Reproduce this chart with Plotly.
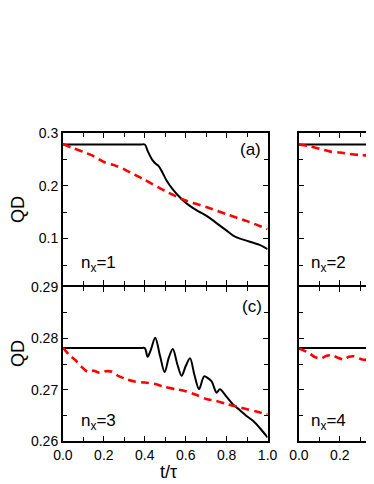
import plotly.graph_objects as go

# panel (a): n_x = 1
a_black_t = [0, 0.2, 0.38, 0.40, 0.415, 0.435, 0.455, 0.467, 0.485, 0.507, 0.535, 0.564, 0.59,
             0.62, 0.66, 0.70, 0.735, 0.767, 0.80, 0.832, 0.865, 0.897, 0.93, 0.961, 1.0]
a_black_qd = [0.278, 0.278, 0.278, 0.278, 0.265, 0.250, 0.241, 0.2377, 0.226, 0.2094, 0.194,
              0.181, 0.171, 0.162, 0.152, 0.1434, 0.134, 0.1245, 0.115, 0.1057, 0.100, 0.0962,
              0.092, 0.0881, 0.080]
a_red_t = [0, 0.05, 0.1, 0.15, 0.2, 0.25, 0.3, 0.35, 0.4, 0.5, 0.6, 0.7, 0.8, 0.9, 1.0]
a_red_qd = [0.279, 0.271, 0.264, 0.256, 0.245, 0.239, 0.231, 0.221, 0.211, 0.190, 0.172, 0.160,
            0.146, 0.133, 0.118]

# panel (b): n_x = 2 (only the left part is visible)
b_black_t = [0, 0.4]
b_black_qd = [0.278, 0.278]
b_red_t = [0, 0.05, 0.1, 0.15, 0.2, 0.25, 0.3, 0.35, 0.4]
b_red_qd = [0.278, 0.275, 0.270, 0.265, 0.263, 0.260, 0.258, 0.257, 0.256]

# panel (c): n_x = 3
c_black_t = [0, 0.2, 0.38, 0.40, 0.414, 0.43, 0.451, 0.475, 0.497, 0.517, 0.537, 0.56, 0.58,
             0.60, 0.621, 0.643, 0.665, 0.69, 0.71, 0.727, 0.751, 0.767, 0.80, 0.832, 0.865,
             0.897, 0.93, 0.965, 1.0]
c_black_qd = [0.2781, 0.2781, 0.2781, 0.2781, 0.2764, 0.2778, 0.2801, 0.2765, 0.2734, 0.2762,
              0.2779, 0.2748, 0.2727, 0.2746, 0.2761, 0.2728, 0.2701, 0.2726, 0.2722, 0.2716,
              0.2694, 0.2701, 0.2686, 0.2671, 0.2660, 0.2649, 0.2639, 0.2624, 0.2607]
c_red_t = [0, 0.03, 0.06, 0.09, 0.12, 0.15, 0.18, 0.21, 0.24, 0.27, 0.3, 0.35, 0.4, 0.45, 0.5,
           0.55, 0.6, 0.65, 0.7, 0.75, 0.8, 0.85, 0.9, 0.95, 1.0]
c_red_qd = [0.2782, 0.2768, 0.2758, 0.2745, 0.2735, 0.2737, 0.2733, 0.2736, 0.2735, 0.2727,
            0.2722, 0.2716, 0.2714, 0.2711, 0.2705, 0.2701, 0.2697, 0.2690, 0.2682, 0.2678,
            0.2672, 0.2667, 0.2662, 0.2657, 0.2652]

# panel (d): n_x = 4 (only the left part is visible)
d_black_t = [0, 0.4]
d_black_qd = [0.2781, 0.2781]
d_red_t = [0, 0.02, 0.05, 0.08, 0.11, 0.135, 0.165, 0.19, 0.22, 0.245, 0.27, 0.3, 0.325, 0.35,
           0.375, 0.4]
d_red_qd = [0.2780, 0.2777, 0.2771, 0.2763, 0.2761, 0.2766, 0.2767, 0.2762, 0.2759, 0.2764,
            0.2765, 0.2760, 0.2758, 0.2763, 0.2764, 0.2760]

x_ticks = [0.0, 0.2, 0.4, 0.6, 0.8, 1.0]
x_tick_text = ["0.0", "0.2", "0.4", "0.6", "0.8", "1.0"]
a_y_ticks = [0.1, 0.2, 0.3]
a_y_tick_text = ["0.1", "0.2", "0.3"]
c_y_ticks = [0.26, 0.27, 0.28, 0.29]
c_y_tick_text = ["0.26", "0.27", "0.28", "0.29"]
panel_tags = ["(a)", "(c)"]
nx_labels = ["n<sub>x</sub>=1", "n<sub>x</sub>=2", "n<sub>x</sub>=3", "n<sub>x</sub>=4"]

# the page body has an 8px margin, so the figure is drawn 8px in from the window corner
OFF = 8
W, H = 374 - OFF, 484 - OFF
FONT = "Liberation Sans, Arial, sans-serif"

def fx(x):
    return (x - OFF) / W

def fy(y):
    return 1 - (y - OFF) / H

fig = go.Figure()

panels = [
    (a_black_t, a_black_qd, a_red_t, a_red_qd, "x", "y"),
    (b_black_t, b_black_qd, b_red_t, b_red_qd, "x2", "y2"),
    (c_black_t, c_black_qd, c_red_t, c_red_qd, "x3", "y3"),
    (d_black_t, d_black_qd, d_red_t, d_red_qd, "x4", "y4"),
]
for bt, bq, rt, rq, xa, ya in panels:
    fig.add_trace(go.Scatter(x=bt, y=bq, mode="lines", xaxis=xa, yaxis=ya,
                             line=dict(color="black", width=2, shape="spline", smoothing=0.9)))
    fig.add_trace(go.Scatter(x=rt, y=rq, mode="lines", xaxis=xa, yaxis=ya,
                             line=dict(color="#ff0000", width=2.6, dash="8px,5px",
                                       shape="spline", smoothing=0.8)))

# axis lines are drawn outside the domain, so edges are nudged by half a line width
left_dom = [fx(62.9), fx(267.6)]
right_dom = [fx(298.9), 1.0]
top_dom = [fy(285.1), fy(132.9)]
bot_dom = [fy(441.1), fy(286.9)]

axis_common = dict(showline=True, linecolor="black", linewidth=1.8, ticks="inside",
                   ticklen=5, tickwidth=1.3, tickcolor="black", showgrid=False,
                   zeroline=False, automargin=False,
                   tickfont=dict(family=FONT, size=14, color="black"))

def xaxis(domain, anchor, rng, labels):
    return dict(axis_common, domain=domain, anchor=anchor, range=rng, mirror="ticks",
                tickvals=x_ticks, ticktext=x_tick_text, showticklabels=labels,
                minor=dict(dtick=0.1, tick0=0, ticks="inside", ticklen=4, tickwidth=1.3,
                           tickcolor="black"))

def yaxis(domain, anchor, rng, vals, text, step, labels, mirror):
    return dict(axis_common, domain=domain, anchor=anchor, range=rng, mirror=mirror,
                tickvals=vals, ticktext=text, showticklabels=labels,
                minor=dict(dtick=step, tick0=0, ticks="inside", ticklen=4, tickwidth=1.3,
                           tickcolor="black"))

right_rng = [0, (374 - 298.9) / (267.6 - 62.9)]
fig.update_layout(
    width=W, height=H, margin=dict(l=0, r=0, t=0, b=0, autoexpand=False),
    paper_bgcolor="white", plot_bgcolor="white", showlegend=False,
    font=dict(family=FONT, color="black"),
    xaxis=xaxis(left_dom, "y", [0, 1], False),
    yaxis=yaxis(top_dom, "x", [0.012, 0.3], a_y_ticks, a_y_tick_text, 0.05, True, "ticks"),
    xaxis2=xaxis(right_dom, "y2", right_rng, False),
    yaxis2=yaxis(top_dom, "x2", [0.012, 0.3], a_y_ticks, a_y_tick_text, 0.05, False, False),
    xaxis3=xaxis(left_dom, "y3", [0, 1], True),
    yaxis3=yaxis(bot_dom, "x3", [0.26, 0.29], c_y_ticks, c_y_tick_text, 0.005, True, "ticks"),
    xaxis4=xaxis(right_dom, "y4", right_rng, True),
    yaxis4=yaxis(bot_dom, "x4", [0.26, 0.29], c_y_ticks, c_y_tick_text, 0.005, False, False),
)

def px(x, y, text, size, xanchor="center", **kw):
    fig.add_annotation(x=fx(x), y=fy(y), xref="paper", yref="paper", text=text,
                       xanchor=xanchor, yanchor="middle", showarrow=False,
                       font=dict(family=FONT, size=size, color="black"), **kw)

# axis titles
px(18, 210, "QD", 18, textangle=-90)
px(18, 354, "QD", 18, textangle=-90)
px(168, 472, "t/τ", 18)
# panel tags
px(251, 149, panel_tags[0], 17)
px(252, 306, panel_tags[1], 17)
# n_x labels
px(79, 264, nx_labels[0], 17, xanchor="left")
px(309, 264, nx_labels[1], 17, xanchor="left")
px(79, 422, nx_labels[2], 17, xanchor="left")
px(309, 422, nx_labels[3], 17, xanchor="left")

fig.write_html("out.html")
